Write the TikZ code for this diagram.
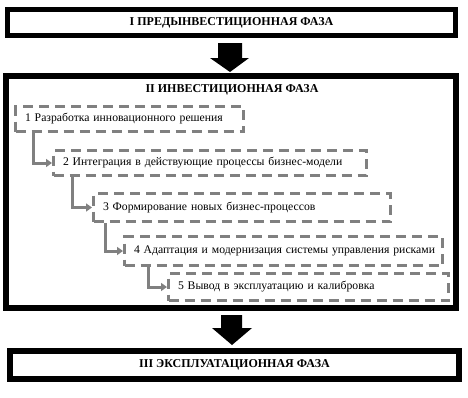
\documentclass[tikz,border=0pt]{standalone}
\usepackage{fontspec}
\setmainfont{Liberation Serif}
\usetikzlibrary{arrows.meta,calc}
\definecolor{lgray}{RGB}{128,128,128}
\begin{document}
\begin{tikzpicture}[x=1pt,y=-1pt,
  phase/.style={draw=black,line width=5.5pt,inner sep=0pt,font=\fontsize{12}{14}\selectfont\bfseries},
  dbox/.style={draw=lgray,line width=3pt,dash pattern=on 10pt off 6pt,anchor=north west,inner xsep=9.5pt,inner ysep=0pt,align=left,font=\fontsize{11.7}{13}\selectfont},
  conn/.style={draw=lgray,line width=3pt,-{Triangle[length=6pt,width=8pt]}},
  blk/.style={fill=black}]
\useasboundingbox (0,0) rectangle (468,397);
% phase boxes
\node[phase,minimum width=448pt,minimum height=26pt] (p1) at (231.5,22.5) {I ПРЕДЫНВЕСТИЦИОННАЯ ФАЗА};
\node[phase,line width=6pt,minimum width=450pt,minimum height=232pt] (p2) at (231,192) {};
\node[font=\fontsize{12}{14}\selectfont\bfseries,inner sep=0pt] (t2) at (232,90) {II ИНВЕСТИЦИОННАЯ ФАЗА};
\node[phase,line width=6pt,minimum width=449pt,minimum height=28pt] (p3) at (234.5,365) {III ЭКСПЛУАТАЦИОННАЯ ФАЗА};
% block arrows
\fill[blk] (218,43) -- (242,43) -- (242,58) -- (249,58) -- (230,72) -- (210,58) -- (218,58) -- cycle;
\fill[blk] (221,315) -- (242,315) -- (242,328) -- (252,328) -- (232,345) -- (212,328) -- (221,328) -- cycle;
% dashed steps
\node[dbox,minimum width=228pt,minimum height=25pt,text width=209pt] (s1) at (14,105) {\mbox{1 Разработка инновационного решения}};
\node[dbox,minimum width=313pt,minimum height=25pt,text width=294pt] (s2) at (52,149) {\mbox{2 Интеграция в действующие процессы бизнес-модели}};
\node[dbox,minimum width=297pt,minimum height=28pt,text width=278pt] (s3) at (92,192) {\mbox{3 Формирование новых бизнес-процессов}};
\node[dbox,minimum width=318pt,minimum height=29pt,text width=299pt] (s4) at (123,235) {\mbox{4 Адаптация и модернизация системы управления рисками}};
\node[dbox,minimum width=280pt,minimum height=27pt,text width=261pt] (s5) at (167,272) {\mbox{5 Вывод в эксплуатацию и калибровка}};
% connectors
\draw[conn] ([xshift=19pt]s1.south west) |- (s2.west);
\draw[conn] ([xshift=20pt]s2.south west) |- (s3.west);
\draw[conn] ([xshift=13pt]s3.south west) |- (s4.west);
\draw[conn] ([xshift=25pt]s4.south west) |- (s5.west);
\end{tikzpicture}
\end{document}
